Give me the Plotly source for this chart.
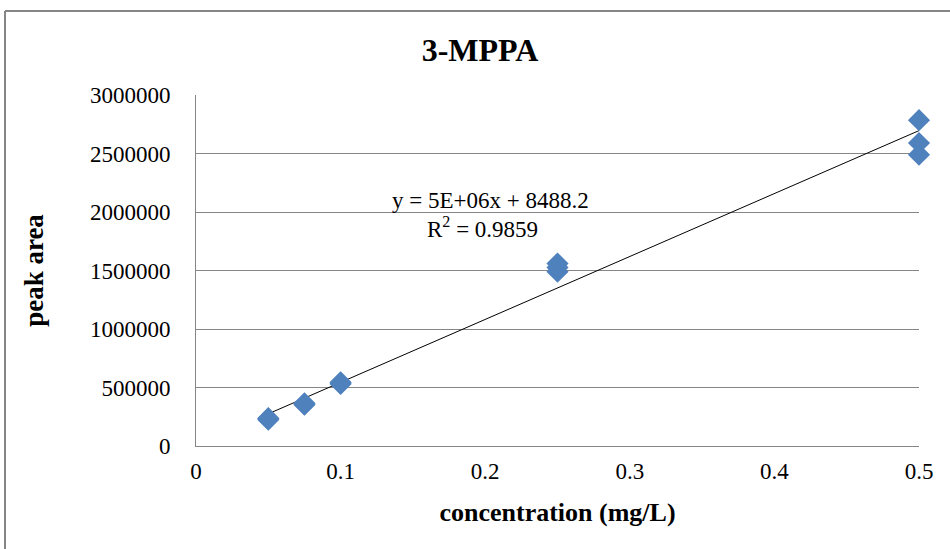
import numpy as np
import plotly.graph_objects as go

# ---- data ----
concentration = [0.05, 0.05, 0.05, 0.075, 0.075, 0.075, 0.1, 0.1, 0.1,
                 0.25, 0.25, 0.25, 0.5, 0.5, 0.5]
peak_area = [225000, 232000, 238000, 352000, 358000, 365000, 530000, 538000, 545000,
             1490000, 1525000, 1560000, 2490000, 2590000, 2785000]
y_ticks = [0, 500000, 1000000, 1500000, 2000000, 2500000, 3000000]
x_ticks = [0, 0.1, 0.2, 0.3, 0.4, 0.5]
title_text = "3-MPPA"
x_title = "concentration (mg/L)"
y_title = "peak area"
eq_text = "y = 5E+06x + 8488.2"
r2_text = "R<sup>2</sup> = 0.9859"

slope, intercept = np.polyfit(concentration, peak_area, 1)
trend_x = [min(concentration), max(concentration)]
trend_y = [slope * v + intercept for v in trend_x]

serif = "Liberation Serif, Times New Roman, serif"
grey = "#868686"

L, R, T, B = 196, 31, 95, 103
W, H = 950, 549
pw = W - L - R
ph = H - T - B


def px_x(px):
    return (px - L) / pw


def px_y(py):
    return 1 - (py - T) / ph


fig = go.Figure()
fig.add_trace(go.Scatter(x=trend_x, y=trend_y, mode="lines",
                         line=dict(color="#000000", width=1), showlegend=False,
                         hoverinfo="skip"))
fig.add_trace(go.Scatter(x=concentration, y=peak_area, mode="markers",
                         marker=dict(symbol="diamond", size=17, color="#4F81BD",
                                     line=dict(width=0)),
                         showlegend=False, cliponaxis=False))

fig.update_layout(
    width=W, height=H,
    margin=dict(l=L, r=R, t=T, b=B),
    paper_bgcolor="white", plot_bgcolor="white",
    font=dict(family=serif, color="#000000", size=23),
    title=dict(text="<b>" + title_text + "</b>", x=480 / W, xanchor="center",
               y=1 - 50 / H, yanchor="middle",
               font=dict(family=serif, size=32, color="#000000")),
    xaxis=dict(range=[0, 0.5], tickvals=x_ticks, ticktext=[str(v) for v in x_ticks],
               showgrid=False, zeroline=False, showline=True, linecolor=grey,
               linewidth=1, ticks="", tickfont=dict(size=23), ticklabelstandoff=4,
               title=dict(text="<b>" + x_title + "</b>", font=dict(size=26), standoff=20)),
    yaxis=dict(range=[0, 3000000], tickvals=y_ticks, ticktext=[str(v) for v in y_ticks],
               showgrid=True, gridcolor=grey, gridwidth=1, zeroline=False,
               showline=True, linecolor=grey, linewidth=1, ticks="",
               tickfont=dict(size=23), ticklabelstandoff=20,
               title=dict(text="<b>" + y_title + "</b>", font=dict(size=27), standoff=38)),
    annotations=[
        dict(text=eq_text, x=px_x(490), y=px_y(200), xref="x domain", yref="y domain",
             xanchor="center", yanchor="middle", showarrow=False, font=dict(size=23)),
        dict(text=r2_text, x=px_x(482), y=px_y(227), xref="x domain", yref="y domain",
             xanchor="center", yanchor="middle", showarrow=False, font=dict(size=23)),
    ],
)

# outer chart border (top and left edges visible)
fig.add_shape(type="line", xref="paper", yref="paper",
              x0=px_x(5), x1=px_x(W + 5), y0=px_y(11), y1=px_y(11),
              line=dict(color=grey, width=2))
fig.add_shape(type="line", xref="paper", yref="paper",
              x0=px_x(5), x1=px_x(5), y0=px_y(11), y1=px_y(H + 5),
              line=dict(color=grey, width=2))

fig.write_html("out.html", config={"displayModeBar": False},
               post_script="document.body.style.margin='0';document.body.style.overflow='hidden';")
